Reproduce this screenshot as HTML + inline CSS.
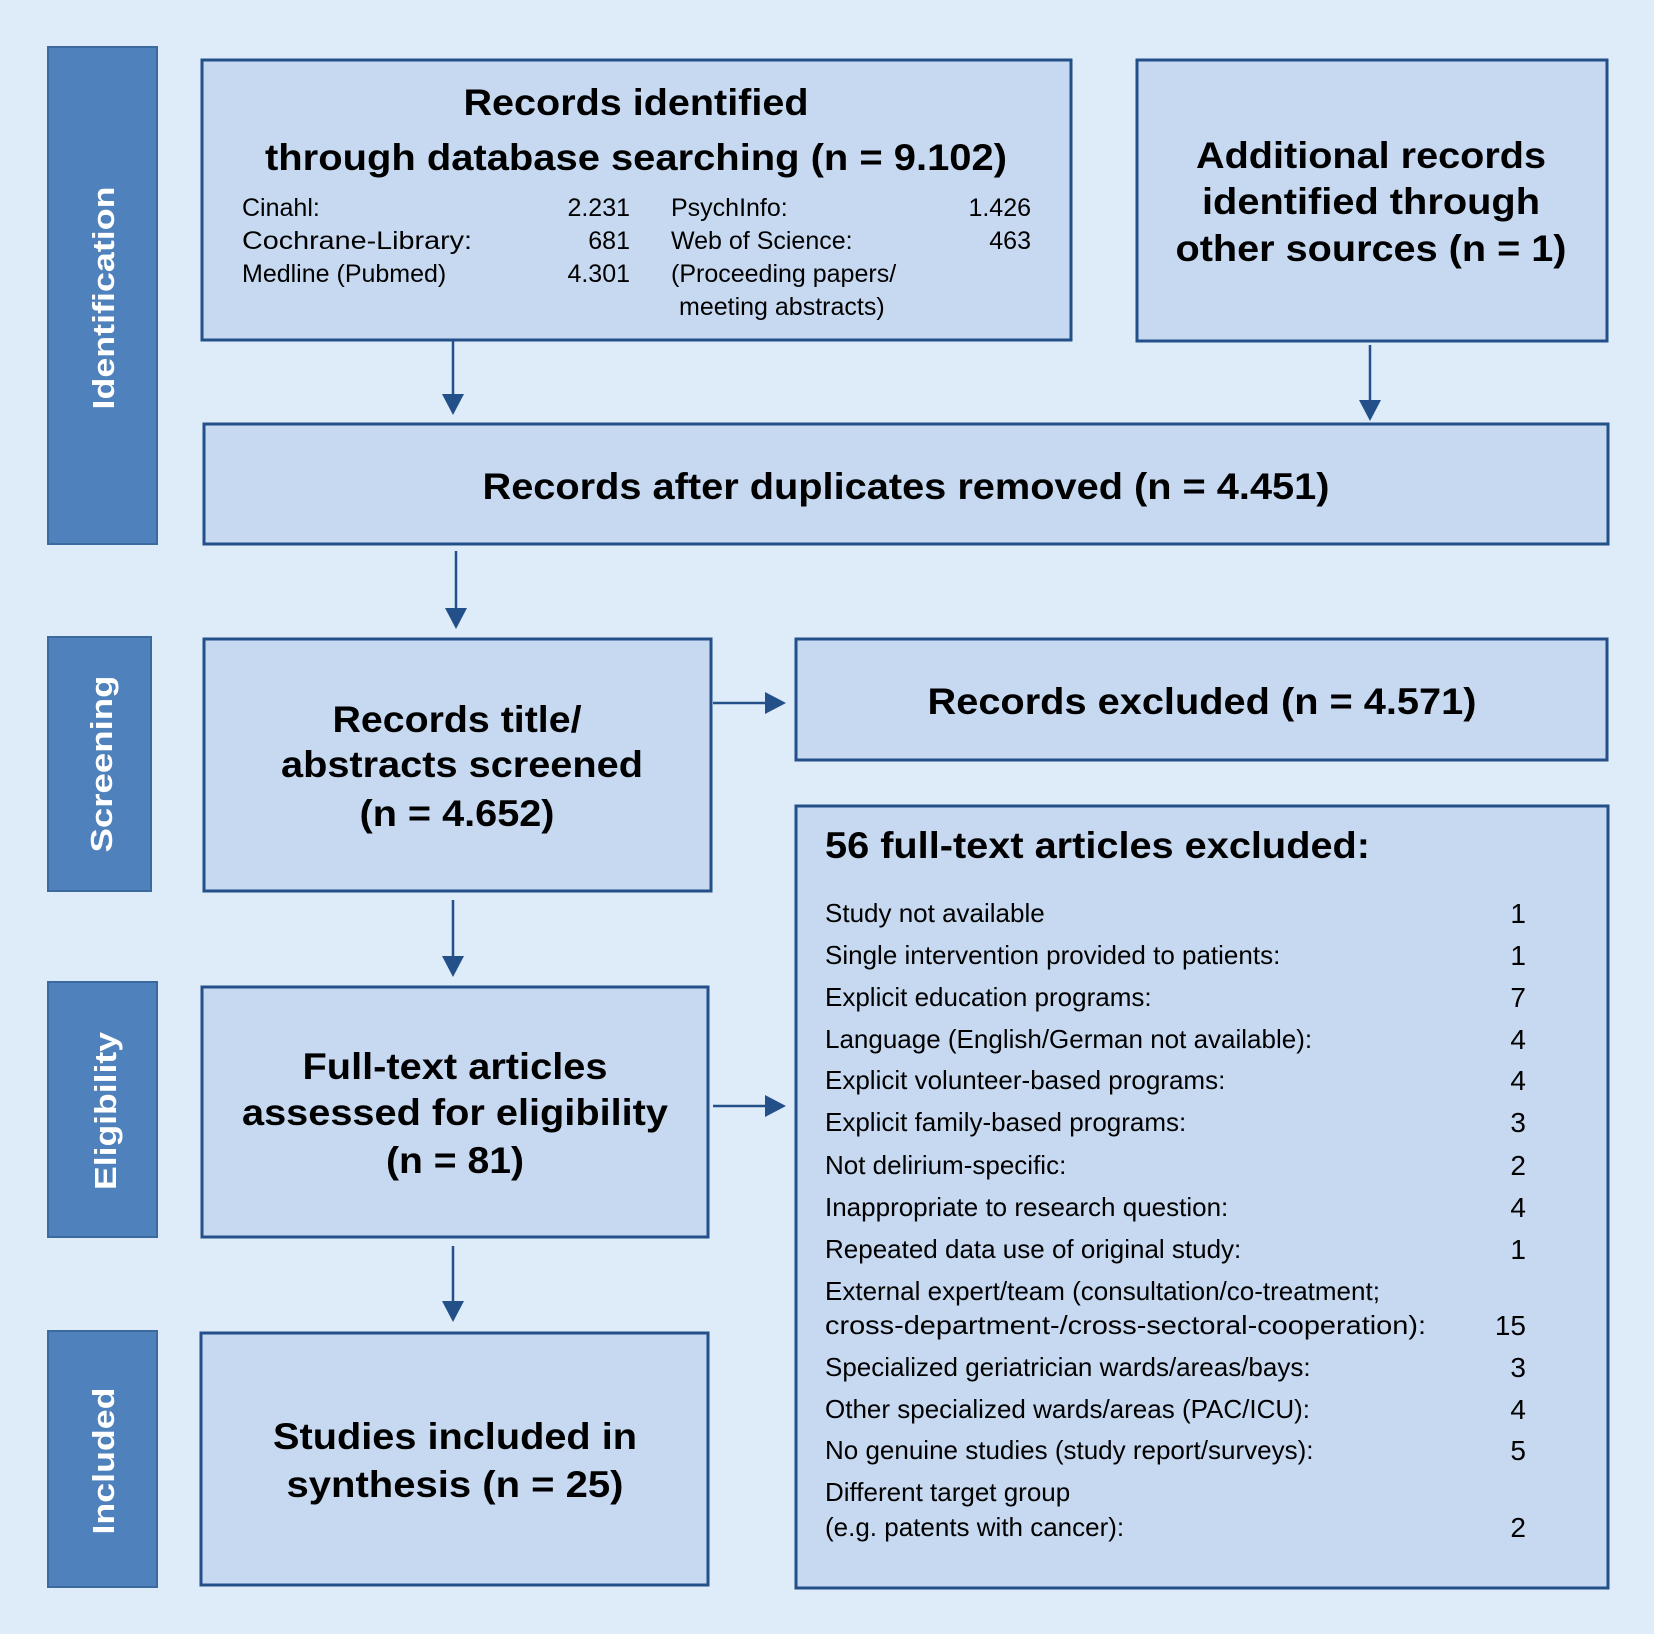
<!DOCTYPE html>
<html><head><meta charset="utf-8"><style>html,body{margin:0;padding:0;background:#deebf8}svg{display:block}</style></head>
<body>
<svg width="1654" height="1634" viewBox="0 0 1654 1634" xmlns="http://www.w3.org/2000/svg" font-family="Liberation Sans, Arial, sans-serif">
<rect width="1654" height="1634" fill="#deebf8"/>
<g fill="#4f81bd" stroke="#3d6a9e" stroke-width="2">
<rect x="48" y="47" width="109" height="497"/>
<rect x="48" y="637" width="103" height="254"/>
<rect x="48" y="982" width="109" height="255"/>
<rect x="48" y="1331" width="109" height="256"/>
</g>
<g fill="#fff" font-weight="bold" font-size="31" text-anchor="middle">
<text transform="translate(114,298) rotate(-90)" textLength="223" lengthAdjust="spacingAndGlyphs">Identification</text>
<text transform="translate(112,764) rotate(-90)" textLength="177" lengthAdjust="spacingAndGlyphs">Screening</text>
<text transform="translate(116,1111) rotate(-90)" textLength="158" lengthAdjust="spacingAndGlyphs">Eligibility</text>
<text transform="translate(114,1461) rotate(-90)" textLength="147" lengthAdjust="spacingAndGlyphs">Included</text>
</g>
<g fill="#c6d9f0" stroke="#24508a" stroke-width="3">
<rect x="202" y="60" width="869" height="280"/>
<rect x="1137" y="60" width="470" height="281"/>
<rect x="204" y="424" width="1404" height="120"/>
<rect x="204" y="639" width="507" height="252"/>
<rect x="796" y="639" width="811" height="121"/>
<rect x="796" y="806" width="812" height="782"/>
<rect x="202" y="987" width="506" height="250"/>
<rect x="201" y="1333" width="507" height="252"/>
</g>
<g stroke="#24508a" stroke-width="2.5" fill="none">
<line x1="453" y1="341" x2="453" y2="396"/>
<line x1="1370" y1="345" x2="1370" y2="402"/>
<line x1="456" y1="551" x2="456" y2="610"/>
<line x1="453" y1="900" x2="453" y2="958"/>
<line x1="453" y1="1246" x2="453" y2="1303"/>
<line x1="713" y1="703" x2="767" y2="703"/>
<line x1="713" y1="1106" x2="767" y2="1106"/>
</g>
<g fill="#24508a">
<polygon points="442,394 464,394 453,415"/>
<polygon points="1359,400 1381,400 1370,421"/>
<polygon points="445,608 467,608 456,629"/>
<polygon points="442,956 464,956 453,977"/>
<polygon points="442,1301 464,1301 453,1322"/>
<polygon points="765,692 765,714 786,703"/>
<polygon points="765,1095 765,1117 786,1106"/>
</g>
<g font-weight="bold" font-size="37" text-anchor="middle" fill="#000">
<text x="636" y="115" textLength="345" lengthAdjust="spacingAndGlyphs">Records identified</text>
<text x="636" y="170" textLength="742" lengthAdjust="spacingAndGlyphs">through database searching (n = 9.102)</text>
<text x="1371" y="168" textLength="350" lengthAdjust="spacingAndGlyphs">Additional records</text>
<text x="1371" y="214" textLength="338" lengthAdjust="spacingAndGlyphs">identified through</text>
<text x="1371" y="261" textLength="391" lengthAdjust="spacingAndGlyphs">other sources (n = 1)</text>
<text x="906" y="499" textLength="847" lengthAdjust="spacingAndGlyphs">Records after duplicates removed (n = 4.451)</text>
<text x="457" y="732" textLength="249" lengthAdjust="spacingAndGlyphs">Records title/</text>
<text x="462" y="777" textLength="362" lengthAdjust="spacingAndGlyphs">abstracts screened</text>
<text x="457" y="826" textLength="195" lengthAdjust="spacingAndGlyphs">(n = 4.652)</text>
<text x="1202" y="714" textLength="549" lengthAdjust="spacingAndGlyphs">Records excluded (n = 4.571)</text>
<text x="455" y="1079" textLength="305" lengthAdjust="spacingAndGlyphs">Full-text articles</text>
<text x="455" y="1125" textLength="426" lengthAdjust="spacingAndGlyphs">assessed for eligibility</text>
<text x="455" y="1173" textLength="138" lengthAdjust="spacingAndGlyphs">(n = 81)</text>
<text x="455" y="1449" textLength="364" lengthAdjust="spacingAndGlyphs">Studies included in</text>
<text x="455" y="1497" textLength="337" lengthAdjust="spacingAndGlyphs">synthesis (n = 25)</text>
<text x="825" y="858" text-anchor="start" textLength="545" lengthAdjust="spacingAndGlyphs">56 full-text articles excluded:</text>
</g>
<g font-size="25" fill="#000">
<text x="242" y="216">Cinahl:</text>
<text x="242" y="249" textLength="230" lengthAdjust="spacingAndGlyphs">Cochrane-Library:</text>
<text x="242" y="282">Medline (Pubmed)</text>
<text x="671" y="216">PsychInfo:</text>
<text x="671" y="249">Web of Science:</text>
<text x="671" y="282">(Proceeding papers/</text>
<text x="679" y="315">meeting abstracts)</text>
<g text-anchor="end">
<text x="630" y="216">2.231</text>
<text x="630" y="249">681</text>
<text x="630" y="282">4.301</text>
<text x="1031" y="216">1.426</text>
<text x="1031" y="249">463</text>
</g>
</g>
<g font-size="26" fill="#000">
<text x="825" y="922">Study not available</text>
<text x="825" y="964">Single intervention provided to patients:</text>
<text x="825" y="1006">Explicit education programs:</text>
<text x="825" y="1048">Language (English/German not available):</text>
<text x="825" y="1089">Explicit volunteer-based programs:</text>
<text x="825" y="1131">Explicit family-based programs:</text>
<text x="825" y="1174">Not delirium-specific:</text>
<text x="825" y="1216">Inappropriate to research question:</text>
<text x="825" y="1258">Repeated data use of original study:</text>
<text x="825" y="1300">External expert/team (consultation/co-treatment;</text>
<text x="825" y="1334" textLength="601" lengthAdjust="spacingAndGlyphs">cross-department-/cross-sectoral-cooperation):</text>
<text x="825" y="1376">Specialized geriatrician wards/areas/bays:</text>
<text x="825" y="1418">Other specialized wards/areas (PAC/ICU):</text>
<text x="825" y="1459">No genuine studies (study report/surveys):</text>
<text x="825" y="1501">Different target group</text>
<text x="825" y="1536">(e.g. patents with cancer):</text>
<g text-anchor="end" font-size="28">
<text x="1526" y="923">1</text>
<text x="1526" y="965">1</text>
<text x="1526" y="1007">7</text>
<text x="1526" y="1049">4</text>
<text x="1526" y="1090">4</text>
<text x="1526" y="1132">3</text>
<text x="1526" y="1175">2</text>
<text x="1526" y="1217">4</text>
<text x="1526" y="1259">1</text>
<text x="1526" y="1335">15</text>
<text x="1526" y="1377">3</text>
<text x="1526" y="1419">4</text>
<text x="1526" y="1460">5</text>
<text x="1526" y="1537">2</text>
</g>
</g>
</svg>
</body></html>
